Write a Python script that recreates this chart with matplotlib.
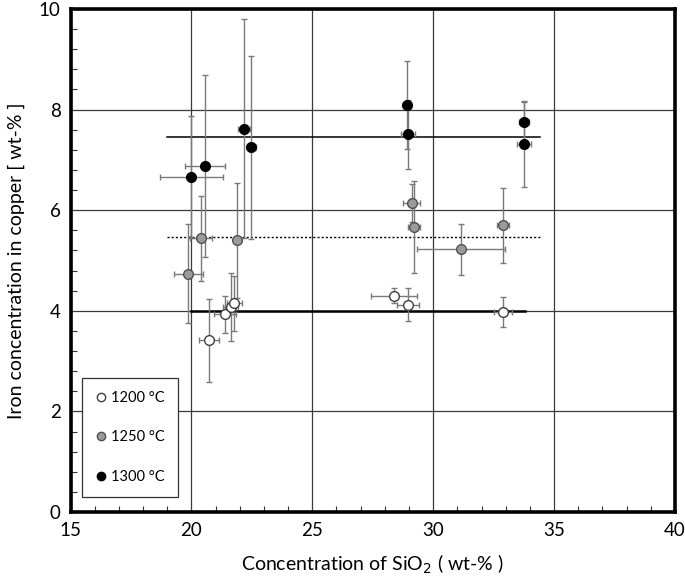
import numpy as np
import matplotlib
matplotlib.use("Agg")
import matplotlib.pyplot as plt
from matplotlib.lines import Line2D
from matplotlib.ticker import MultipleLocator

plt.rcParams['font.family'] = ['Lato', 'DejaVu Sans']

# ── Data ───────────────────────────────────────────────────────────────────────
# 1200 °C (open circles)
x_1200    = [20.73, 21.38, 21.62, 21.78, 28.38, 28.96, 32.90]
y_1200    = [3.41, 3.93, 4.08, 4.15, 4.30, 4.12, 3.98]
xerr_1200 = [0.41, 0.45, 0.30, 0.30, 0.95, 0.45, 0.37]
yerr_1200 = [0.82, 0.37, 0.68, 0.55, 0.15, 0.33, 0.30]

# 1250 °C (grey circles)
x_1250    = [19.86, 20.40, 21.90, 29.12, 29.20, 31.15, 32.90]
y_1250    = [4.74, 5.44, 5.40, 6.14, 5.67, 5.22, 5.70]
xerr_1250 = [0.60, 0.45, 0.15, 0.35, 0.25, 1.80, 0.25]
yerr_1250 = [0.99, 0.84, 1.14, 0.38, 0.92, 0.50, 0.75]

# 1300 °C (black circles)
x_1300    = [20.00, 20.55, 22.16, 22.48, 28.92, 28.96, 33.76, 33.76]
y_1300    = [6.66, 6.87, 7.62, 7.25, 8.09, 7.51, 7.76, 7.32]
xerr_1300 = [1.30, 0.83, 0.25, 0.20, 0.15, 0.29, 0.20, 0.30]
yerr_1300 = [1.22, 1.81, 2.18, 1.82, 0.88, 0.69, 0.40, 0.86]

# mean levels per temperature (y, x start, x end)
mean_y     = [4.00, 5.46, 7.45]
mean_x0    = [20.0, 19.0, 19.0]
mean_x1    = [33.8, 34.4, 34.4]

labels = ["1200 °C", "1250 °C", "1300 °C"]

# ── Figure ─────────────────────────────────────────────────────────────────────
fig = plt.figure(figsize=(6.85, 5.8), dpi=100)
ax = fig.add_axes([70.5 / 685, (580 - 512) / 580, (675 - 70.5) / 685, (512 - 9) / 580])

ax.set_xlim(15, 40)
ax.set_ylim(0, 10)
ax.xaxis.set_major_locator(MultipleLocator(5))
ax.xaxis.set_minor_locator(MultipleLocator(1))
ax.yaxis.set_major_locator(MultipleLocator(2))
ax.yaxis.set_minor_locator(MultipleLocator(0.4))
ax.grid(True, which='major', color='#3a3a3a', lw=0.9)
ax.set_axisbelow(True)
ax.tick_params(which='both', direction='in', top=False, right=False,
               labelsize=13.5, pad=7, color='#333333')
ax.tick_params(which='major', length=0)
ax.tick_params(which='minor', length=4, width=0.8)
for s in ax.spines.values():
    s.set_linewidth(2.6)
    s.set_color('black')

# mean lines
styles = [dict(ls='-', lw=1.8), dict(ls=(0, (1.5, 1.5)), lw=1.0), dict(ls='-', lw=1.1)]
for yv, x0, x1, st in zip(mean_y, mean_x0, mean_x1, styles):
    ax.plot([x0, x1], [yv, yv], color='black', zorder=2, **st)

series = [
    (x_1200, y_1200, xerr_1200, yerr_1200, 'white', '#404040'),
    (x_1250, y_1250, xerr_1250, yerr_1250, '#9a9a9a', '#505050'),
    (x_1300, y_1300, xerr_1300, yerr_1300, 'black', 'black'),
]
for xs, ys, xe, ye, fc, ec in series:
    ax.errorbar(xs, ys, xerr=xe, yerr=ye, fmt='none', ecolor='#7a7a7a',
                elinewidth=1.0, capsize=2.5, capthick=1.0, zorder=3)
for xs, ys, xe, ye, fc, ec in series:
    ax.plot(xs, ys, 'o', ms=7, mfc=fc, mec=ec, mew=1.0, zorder=4)

handles = [Line2D([], [], ls='none', marker='o', ms=6, mfc=fc, mec=ec, mew=1.0)
           for (_, _, _, _, fc, ec) in series]
leg = ax.legend(handles, labels, loc='lower left', bbox_to_anchor=(0.019, 0.03),
                borderaxespad=0, fontsize=10.5, frameon=True, fancybox=False,
                edgecolor='#333333', framealpha=1, labelspacing=1.75,
                handlelength=0.8, handletextpad=0.3, borderpad=0.9)
leg.get_frame().set_linewidth(0.9)

ax.set_xlabel("Concentration of SiO$_2$ ( wt-% )", fontsize=14, labelpad=10)
ax.set_ylabel("Iron concentration in copper [ wt-% ]", fontsize=14, labelpad=10)

fig.savefig("out.png", dpi=100)
